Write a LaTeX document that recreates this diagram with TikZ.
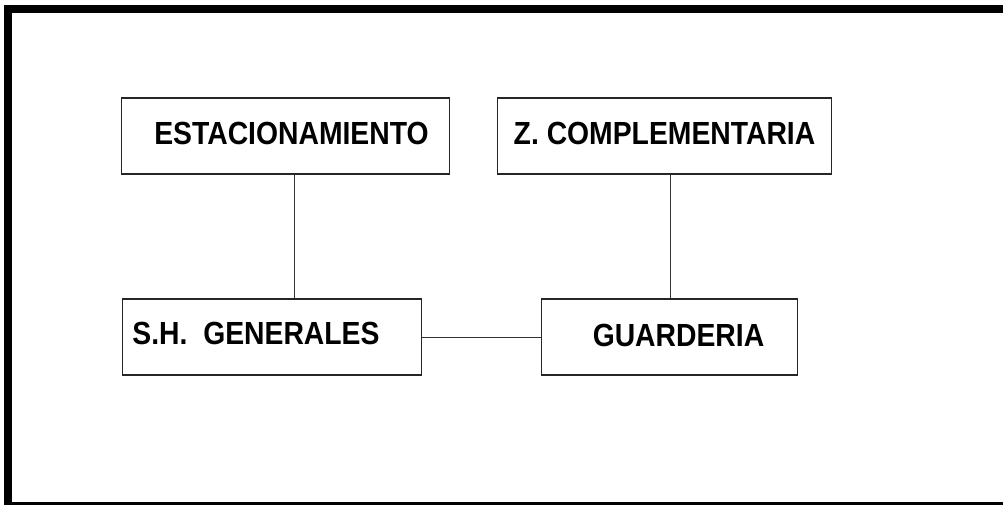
\documentclass[tikz,border=0pt]{standalone}
\usepackage{fontspec}
\newfontfamily\boxfont{Liberation Sans}[FakeStretch=0.885]
\usepackage{tikz}
\usetikzlibrary{positioning}

\begin{document}
\begin{tikzpicture}[
  x=1pt, y=-1pt,
  box/.style={rectangle, draw=black!85, line width=1.3pt, fill=white,
    minimum height=76pt, inner sep=0pt},
  lbl/.style={inner sep=0pt, font=\boxfont\bfseries\fontsize{32}{38}\selectfont},
  link/.style={draw=black!80, line width=1pt},
  frame/.style={draw=black, line width=8pt}
]
  \useasboundingbox (0,0) rectangle (1003,504);
  \clip (0,0) rectangle (1003,504);
  \draw[frame] (1012,9) -- (8,9) -- (8,506) -- (1012,506);

  \node[box, minimum width=328pt] (estac) at (285.5,136) {};
  \node[box, minimum width=334pt] (zcomp) at (664.5,136) {};
  \node[box, minimum width=299pt] (sh)    at (272,337)   {};
  \node[box, minimum width=256pt] (guard) at (669.5,337) {};

  \node[lbl] (estactext) at (291.5,133.5) {ESTACIONAMIENTO};
  \node[lbl] (zcomptext) at (664.5,133)   {Z. COMPLEMENTARIA};
  \node[lbl] (shtext)    at (256,333.5)   {S.H.~~GENERALES};
  \node[lbl] (guardtext) at (678.5,335)   {GUARDERIA};

  \coordinate (estacdrop) at (294,0);
  \coordinate (zcompdrop) at (670,0);

  \draw[link] (estac.south -| estacdrop) -- (sh.north -| estacdrop);
  \draw[link] (zcomp.south -| zcompdrop) -- (guard.north -| zcompdrop);
  \draw[link] (sh.east) -- (guard.west);
\end{tikzpicture}
\end{document}
